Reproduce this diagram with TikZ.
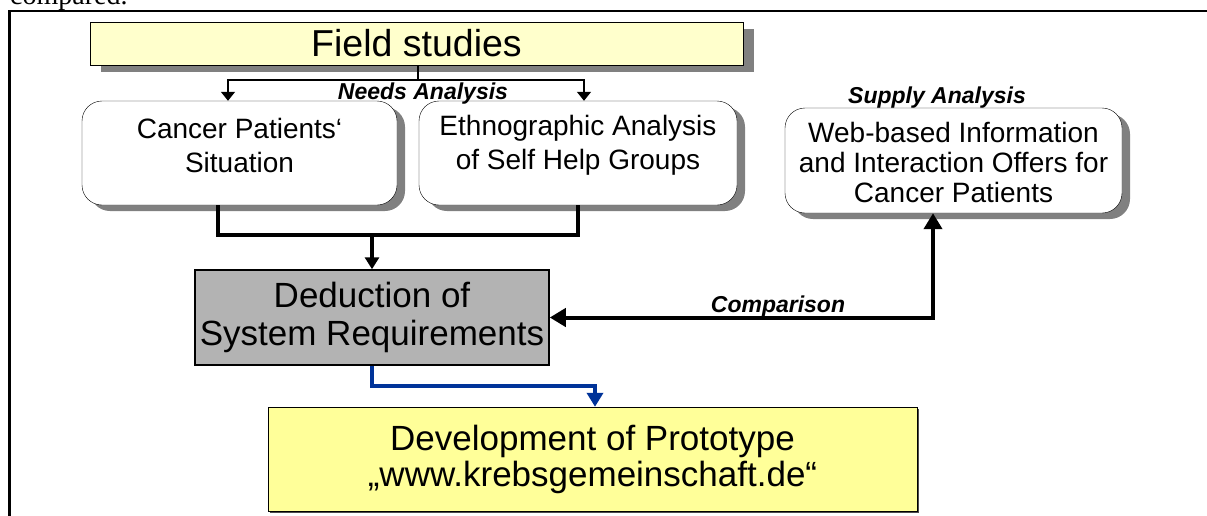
\documentclass[tikz,border=0pt]{standalone}
\usepackage{fontspec}
\setmainfont{Liberation Sans}
\newfontfamily\serifface{Liberation Serif}
\usetikzlibrary{arrows.meta,shadows}

\definecolor{paleyellow}{RGB}{255,255,204}
\definecolor{lightyellow}{RGB}{255,255,153}
\definecolor{boxgray}{RGB}{179,179,179}
\definecolor{linkblue}{RGB}{0,51,153}

\begin{document}
\begin{tikzpicture}[x=1pt,y=-1pt,
    roundbox/.style={draw, thin, fill=white, rounded corners=20pt, minimum width=315pt, minimum height=104pt,
        drop shadow={shadow xshift=8pt, shadow yshift=-6pt, fill=gray, opacity=1}},
    boxtext/.style={align=center, font=\fontsize{28}{34}\selectfont},
    lbl/.style={font=\fontsize{23}{26}\selectfont\bfseries\itshape, anchor=base, inner sep=0pt},
    thinarrow/.style={line width=1.5pt, -{Triangle[width=14pt,length=9pt]}},
    thickline/.style={line width=4pt},
    bigtip/.tip={Triangle[width=18pt,length=16pt]}
    ]
\useasboundingbox (0,0) rectangle (1207,515);
\node[anchor=base west, inner sep=0pt, font=\serifface\fontsize{28}{30}\selectfont] (prev) at (10,4) {compared.};
\draw[line width=2.5pt] (9.5,540) -- (9.5,11) -- (1240,11);

% boxes
\node[draw, thin, fill=paleyellow, minimum width=653pt, minimum height=43pt, font=\fontsize{37.5}{40}\selectfont,
    drop shadow={shadow xshift=11pt, shadow yshift=-7pt, fill=gray, opacity=1}] (field) at (416.5,43.5) {Field studies};

\node[roundbox] (cancer) at (239.5,153) {};
\node[boxtext] (cancertext) at ([yshift=8pt]cancer.center) {Cancer Patients‘\\Situation};
\node[roundbox, minimum width=318pt] (ethno) at (578,153) {};
\node[boxtext] (ethnotext) at ([yshift=8pt]ethno.center) {Ethnographic Analysis\\of Self Help Groups};
\node[roundbox, minimum width=337pt, minimum height=105pt] (web) at (953.5,160.5) {};
\node[boxtext, font=\fontsize{28}{30}\selectfont] (webtext) at ([yshift=-2pt]web.center) {Web-based Information\\and Interaction Offers for\\Cancer Patients};

\node[draw, line width=1.5pt, fill=boxgray, minimum width=354pt, minimum height=95pt, align=center,
    font=\fontsize{35}{38}\selectfont] (deduct) at (372,317.5) {Deduction of\\System Requirements};
\node[draw, fill=lightyellow, minimum width=649pt, minimum height=104pt, align=center, font=\fontsize{35}{36}\selectfont,
    drop shadow={shadow xshift=2pt, shadow yshift=-2pt, fill=black!70, opacity=1}] (develop) at (592.5,459)
    {Development of Prototype\\„www.krebsgemeinschaft.de“};

% arrows
\coordinate (split) at (418,80);
\draw[line width=1.5pt] (split |- field.south) -- (split);
\draw[thinarrow] (split) -| ([xshift=-11.5pt]cancer.north);
\draw[thinarrow] (split) -| ([xshift=6pt]ethno.north);

\coordinate (merge) at (372,235);
\draw[thickline] ([xshift=-21.5pt]cancer.south) |- (merge) -| (ethno.south);
\draw[thickline, -{Triangle[width=14pt,length=12pt]}] (merge) -- (deduct.north);

\draw[thickline, bigtip-bigtip] (deduct.east) -| ([xshift=-20.5pt]web.south);
\draw[thickline, linkblue, -{Triangle[width=16pt,length=14pt]}] (deduct.south) -- ++(0,20) -| ([xshift=2.5pt]develop.north);

% labels
\node[lbl] (needs) at (423,99) {Needs Analysis};
\node[lbl] (supply) at (937,103) {Supply Analysis};
\node[lbl] (compare) at (778,312) {Comparison};
\end{tikzpicture}
\end{document}
